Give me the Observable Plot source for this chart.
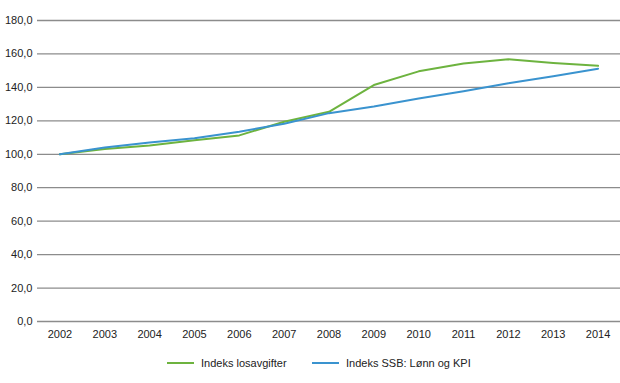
<!DOCTYPE html>
<html>
<head>
<meta charset="utf-8">
<script src="https://cdn.jsdelivr.net/npm/d3@7"></script>
<script src="https://cdn.jsdelivr.net/npm/@observablehq/plot@0.6"></script>
<style>
  html, body { margin: 0; padding: 0; background: #fff; }
  body { width: 620px; height: 383px; overflow: hidden; font-family: "Liberation Sans", Arial, sans-serif; }
  #legend { position: relative; height: 38px; font-size: 11px; color: #222; }
  .item { position: absolute; top: 12px; display: flex; align-items: center; }
  .swatch { width: 27px; height: 2.5px; margin-right: 7px; }
</style>
</head>
<body>
<div id="chart"></div>
<div id="legend"></div>
<script>
const years = [2002, 2003, 2004, 2005, 2006, 2007, 2008, 2009, 2010, 2011, 2012, 2013, 2014];
const losavgifter = [100, 103.2, 105.3, 108.4, 111.3, 119.5, 125.4, 141.4, 149.6, 154.3, 156.8, 154.6, 152.9];
const ssb = [100, 104.0, 107.0, 109.6, 113.5, 118.3, 124.6, 128.6, 133.3, 137.7, 142.5, 146.7, 151.2];
const yTicks = [0, 20, 40, 60, 80, 100, 120, 140, 160, 180];
const seriesNames = ["Indeks losavgifter", "Indeks SSB: Lønn og KPI"];
const seriesColors = ["#6db33f", "#3a93cf"];

const rows = [];
years.forEach((y, i) => {
  rows.push({year: y, value: losavgifter[i], series: seriesNames[0]});
  rows.push({year: y, value: ssb[i], series: seriesNames[1]});
});

const fmt = v => v.toFixed(1).replace(".", ",");

const chart = Plot.plot({
  width: 620,
  height: 345,
  marginLeft: 37,
  marginRight: 0,
  marginTop: 20,
  marginBottom: 24,
  style: {fontFamily: "Liberation Sans, Arial, sans-serif", fontSize: "11px", color: "#222", background: "#fff"},
  x: {type: "point", domain: years, padding: 0.5, round: false, label: null, tickSize: 0, tickPadding: 9, tickFormat: d => String(d)},
  y: {domain: [0, 180], ticks: yTicks, label: null, tickSize: 0, tickPadding: 5, tickFormat: fmt},
  color: {domain: seriesNames, range: seriesColors},
  marks: [
    Plot.ruleY(yTicks, {stroke: "#8c8c8c", strokeWidth: 1.3}),
    Plot.line(rows, {x: "year", y: "value", z: "series", stroke: "series", strokeWidth: 2})
  ]
});
document.getElementById("chart").appendChild(chart);

const legend = document.getElementById("legend");
const lefts = [167, 312];
seriesNames.forEach((name, i) => {
  const item = document.createElement("div");
  item.className = "item";
  item.style.left = lefts[i] + "px";
  const sw = document.createElement("div");
  sw.className = "swatch";
  sw.style.background = seriesColors[i];
  const t = document.createElement("span");
  t.textContent = name;
  item.appendChild(sw);
  item.appendChild(t);
  legend.appendChild(item);
});
</script>
</body>
</html>
